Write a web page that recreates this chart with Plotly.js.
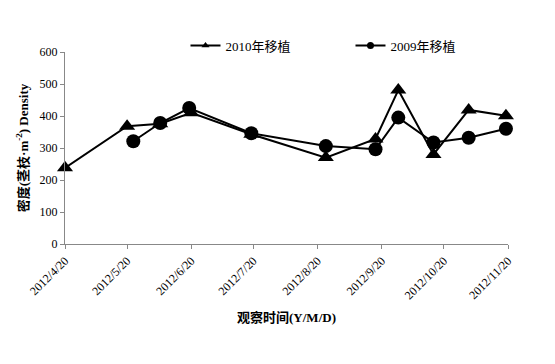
<!DOCTYPE html>
<html><head><meta charset="utf-8">
<script src="https://cdn.plot.ly/plotly-3.0.1.min.js"></script>
<style>html,body{margin:0;padding:0;background:#fff}</style>
</head><body>
<div id="chart" style="width:555px;height:364px"></div>
<script>
const dates2010 = ["2012-04-20","2012-05-20","2012-06-05","2012-06-20","2012-07-19","2012-08-24","2012-09-17","2012-09-28","2012-10-15","2012-11-01","2012-11-19"];
const values2010 = [238, 368, 376, 410, 343, 270, 328, 481, 280, 419, 401];
const dates2009 = ["2012-05-23","2012-06-05","2012-06-19","2012-07-19","2012-08-24","2012-09-17","2012-09-28","2012-10-15","2012-11-01","2012-11-19"];
const values2009 = [321, 378, 425, 346, 306, 296, 395, 317, 332, 360];
const tickDates = ["2012-04-20","2012-05-20","2012-06-20","2012-07-20","2012-08-20","2012-09-20","2012-10-20","2012-11-20"];
const tickLabels = ["2012/4/20","2012/5/20","2012/6/20","2012/7/20","2012/8/20","2012/9/20","2012/10/20","2012/11/20"];
const seriesNames = ["2010年移植","2009年移植"];

const fontFam = "Liberation Serif, Times New Roman, Noto Sans CJK SC, serif";
const traces = [
  {x: dates2010, y: values2010, name: seriesNames[0], type: "scatter", mode: "lines+markers", showlegend: false, legendgroup: "a",
   line: {color: "#000", width: 2}, marker: {symbol: "triangle-up", size: 14, color: "#000"}, cliponaxis: false},
  {x: dates2009, y: values2009, name: seriesNames[1], type: "scatter", mode: "lines+markers", showlegend: false, legendgroup: "b",
   line: {color: "#000", width: 2}, marker: {symbol: "circle", size: 14, color: "#000"}, cliponaxis: false},
  {x: [null], y: [null], name: seriesNames[0], type: "scatter", mode: "lines+markers", legendgroup: "a",
   line: {color: "#000", width: 2}, marker: {symbol: "triangle-up", size: 7, color: "#000"}},
  {x: [null], y: [null], name: seriesNames[1], type: "scatter", mode: "lines+markers", legendgroup: "b",
   line: {color: "#000", width: 2}, marker: {symbol: "circle", size: 7, color: "#000"}}
];
const layout = {
  width: 555, height: 364,
  margin: {l: 65, r: 47, t: 52, b: 120},
  paper_bgcolor: "#fff", plot_bgcolor: "#fff",
  font: {family: fontFam, color: "#000", size: 12},
  showlegend: true,
  legend: {orientation: "h", x: 0.272, xanchor: "left", y: 0.955, yanchor: "bottom",
           font: {family: fontFam, size: 13}, entrywidth: 120, tracegroupgap: 0,
           bgcolor: "rgba(0,0,0,0)"},
  xaxis: {type: "date", range: ["2012-04-20", "2012-11-20"],
          tickmode: "array", tickvals: tickDates, ticktext: tickLabels,
          tickangle: -45, ticks: "outside", ticklen: 4, tickcolor: "#888",
          showline: true, linecolor: "#888", linewidth: 1, showgrid: false, zeroline: false,
          tickfont: {family: fontFam, size: 12},
          title: {text: "<b>观察时间(Y/M/D)</b>", font: {family: fontFam, size: 13}, standoff: 11}},
  yaxis: {range: [0, 600], dtick: 100, ticks: "outside", ticklen: 4, tickcolor: "#888",
          showline: true, linecolor: "#888", linewidth: 1, showgrid: false, zeroline: false,
          tickfont: {family: fontFam, size: 12},
          title: {text: "<b>密度(茎枝·m<sup>-2</sup>) Density</b>", font: {family: fontFam, size: 13}, standoff: 8}}
};
Plotly.newPlot("chart", traces, layout, {displayModeBar: false, staticPlot: true});
</script>
</body></html>
